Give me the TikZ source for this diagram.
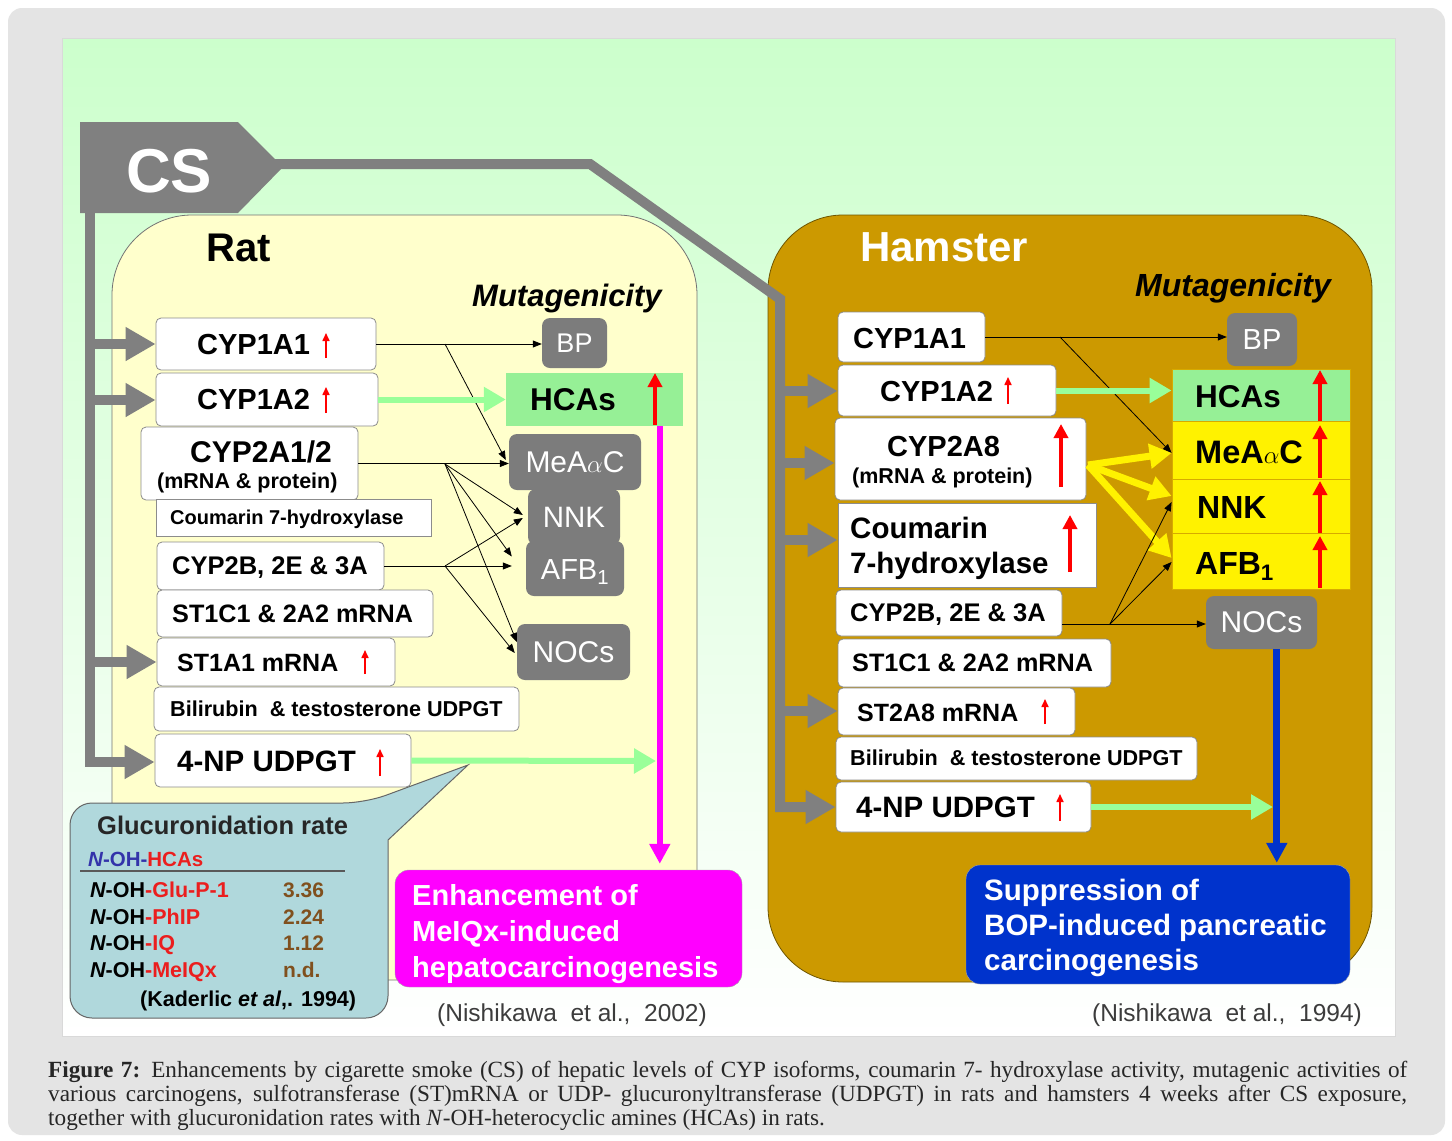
\documentclass[tikz,border=0pt]{standalone}
\usepackage{fontspec}
\setmainfont{Liberation Sans}
\newfontfamily\capfont{Liberation Serif}
\usetikzlibrary{arrows.meta,fit,calc}

\definecolor{framegray}{RGB}{228,228,228}
\definecolor{mint}{RGB}{204,255,204}
\definecolor{csgray}{RGB}{128,128,128}
\definecolor{cellgray}{RGB}{124,124,124}
\definecolor{ratfill}{RGB}{255,255,204}
\definecolor{hamfill}{RGB}{204,153,0}
\definecolor{hamedge}{RGB}{110,85,0}
\definecolor{hcagreen}{RGB}{150,240,150}
\definecolor{arrgreen}{RGB}{153,255,153}
\definecolor{celledge}{RGB}{215,170,0}
\definecolor{mag}{RGB}{255,0,255}
\definecolor{supblue}{RGB}{0,51,204}
\definecolor{callfill}{RGB}{176,216,220}
\definecolor{valbrown}{RGB}{128,80,30}
\definecolor{upred}{RGB}{255,0,0}
\definecolor{namered}{RGB}{235,30,30}
\definecolor{hcablue}{RGB}{51,51,170}
\definecolor{refgray}{RGB}{60,60,60}

\newcommand\fz[1]{\fontsize{#1}{#1}\selectfont}

\begin{document}
\begin{tikzpicture}[x=1pt,y=-1pt,
  wbox/.style={draw=black!45,fill=white,rounded corners=5pt,line width=0.8pt,inner sep=0pt},
  sbox/.style={draw=black!45,fill=white,line width=0.8pt,inner sep=0pt},
  gbox/.style={fill=cellgray,rounded corners=8pt,inner sep=0pt},
  gtext/.style={text=white,inner sep=0pt,anchor=center},
  cell/.style={draw=celledge,line width=0.8pt,inner sep=0pt},
  lab/.style={anchor=base west,inner sep=0pt},
  thinarr/.style={draw=black,line width=0.8pt,-{Triangle[length=9pt,width=7pt]}},
  grayarr/.style={draw=csgray,line width=10pt,-{Triangle[length=30pt,width=32pt]}},
  greenarr/.style={draw=arrgreen,line width=6pt,-{Triangle[length=22pt,width=24pt]}},
  yelarr/.style={draw=yellow,line width=7pt,-{Triangle[length=22pt,width=24pt]}},
  upsm/.style={draw=upred,line width=1.6pt,-{Triangle[length=8pt,width=7pt]}},
  upbig/.style={draw=upred,line width=4pt,-{Triangle[length=14pt,width=14pt]}},
]
\useasboundingbox (0,0) rectangle (1452,1141);

% frame and panel
\fill[white] (0,0) rectangle (1452,1141);
\fill[framegray,rounded corners=14pt] (8,8) rectangle (1445,1135);
\shade[top color=mint,bottom color=white,draw=black!15] (62,38) rectangle (1395,1036);

% species regions
\draw[fill=ratfill,draw=black!55,line width=0.8pt,rounded corners=80pt] (112,215) rectangle (697,980);
\draw[fill=hamfill,draw=hamedge,line width=0.8pt,rounded corners=75pt] (768,215) rectangle (1372,982);

\node[lab,font=\bfseries\fz{40}] (rattitle) at (206,261) {Rat};
\node[lab,font=\bfseries\fz{42},text=white] (hamtitle) at (860,261) {Hamster};
\node[lab,font=\bfseries\itshape\fz{31}] (ratmut) at (472,306) {Mutagenicity};
\node[lab,font=\bfseries\itshape\fz{32}] (hammut) at (1135,296) {Mutagenicity};

% ---------- rat: enzyme boxes ----------
\node[wbox,fit={(156,318)(376,370)}] (r1) {};
\node[lab,font=\bfseries\fz{29}] (r1t) at (197,354) {CYP1A1};
\node[wbox,fit={(156,373)(378,426)}] (r2) {};
\node[lab,font=\bfseries\fz{29}] (r2t) at (197,409) {CYP1A2};
\node[wbox,fit={(141,427)(358,500)}] (r3) {};
\node[lab,font=\bfseries\fz{30}] (r3t) at (190,462) {CYP2A1/2};
\node[lab,font=\bfseries\fz{21.5}] (r3u) at (157,488) {(mRNA \& protein)};
\node[sbox,fit={(156,499)(431,536)}] (r4) {};
\node[lab,font=\bfseries\fz{20}] (r4t) at (170,524) {Coumarin 7-hydroxylase};
\node[wbox,fit={(157,542)(384,590)}] (r5) {};
\node[lab,font=\bfseries\fz{25.5}] (r5t) at (172,574) {CYP2B, 2E \& 3A};
\node[wbox,fit={(157,590)(433,637)}] (r6) {};
\node[lab,font=\bfseries\fz{25.2}] (r6t) at (172,622) {ST1C1 \& 2A2 mRNA};
\node[wbox,fit={(157,638)(395,686)}] (r7) {};
\node[lab,font=\bfseries\fz{25}] (r7t) at (177,671) {ST1A1 mRNA};
\node[wbox,fit={(154,687)(519,731)}] (r8) {};
\node[lab,font=\bfseries\fz{21.6}] (r8t) at (170,716) {Bilirubin\ \ \& testosterone UDPGT};
\node[wbox,fit={(155,734)(411,787)}] (r9) {};
\node[lab,font=\bfseries\fz{29.5}] (r9t) at (177,771) {4-NP UDPGT};

% ---------- rat: mutagens ----------
\node[gbox,fit={(542,318)(607,368)}] (rBP) {};
\node[gtext,font=\fz{27}] (rBPt) at (rBP.center) {BP};
\node[fill=hcagreen,inner sep=0pt,fit={(506,373)(683,426)}] (rHCA) {};
\node[lab,font=\bfseries\fz{31.5}] (rHCAt) at (530,410) {HCAs};
\node[gbox,fit={(509,434)(641,490)}] (rMe) {};
\node[gtext,font=\fz{30}] (rMet) at (rMe.center) {MeA$\alpha$C};
\node[gbox,fit={(528,489)(620,545)}] (rNNK) {};
\node[gtext,font=\fz{29.5}] (rNNKt) at (rNNK.center) {NNK};
\node[gbox,fit={(526,541)(624,596)}] (rAFB) {};
\node[gtext,font=\fz{29},anchor=base] (rAFBt) at ($(rAFB.center)+(0,11)$) {AFB\textsubscript{1}};
\node[gbox,fit={(517,624)(630,680)}] (rNOC) {};
\node[gtext,font=\fz{30}] (rNOCt) at (rNOC.center) {NOCs};

% ---------- hamster: enzyme boxes ----------
\node[wbox,fit={(838,312)(985,362)}] (h1) {};
\node[lab,font=\bfseries\fz{29}] (h1t) at (853,348) {CYP1A1};
\node[wbox,fit={(838,365)(1056,416)}] (h2) {};
\node[lab,font=\bfseries\fz{29}] (h2t) at (880,401) {CYP1A2};
\node[wbox,fit={(835,418)(1086,500)}] (h3) {};
\node[lab,font=\bfseries\fz{29}] (h3t) at (887,456) {CYP2A8};
\node[lab,font=\bfseries\fz{21.5}] (h3u) at (852,483) {(mRNA \& protein)};
\node[sbox,fit={(838,503)(1096,587)}] (h4) {};
\node[lab,font=\bfseries\fz{29.5}] (h4t) at (850,538) {Coumarin};
\node[lab,font=\bfseries\fz{29.5}] (h4u) at (850,573) {7-hydroxylase};
\node[wbox,fit={(836,590)(1062,636)}] (h5) {};
\node[lab,font=\bfseries\fz{25.5}] (h5t) at (850,621) {CYP2B, 2E \& 3A};
\node[wbox,fit={(838,639)(1111,687)}] (h6) {};
\node[lab,font=\bfseries\fz{25.2}] (h6t) at (852,671) {ST1C1 \& 2A2 mRNA};
\node[wbox,fit={(838,688)(1075,735)}] (h7) {};
\node[lab,font=\bfseries\fz{25}] (h7t) at (857,721) {ST2A8 mRNA};
\node[wbox,fit={(836,737)(1197,780)}] (h8) {};
\node[lab,font=\bfseries\fz{21.6}] (h8t) at (850,765) {Bilirubin\ \ \& testosterone UDPGT};
\node[wbox,fit={(836,782)(1091,832)}] (h9) {};
\node[lab,font=\bfseries\fz{29.5}] (h9t) at (856,817) {4-NP UDPGT};

% ---------- hamster: mutagens ----------
\node[gbox,fit={(1227,313)(1297,366)}] (hBP) {};
\node[gtext,font=\fz{29}] (hBPt) at (hBP.center) {BP};
\node[cell,fill=hcagreen,fit={(1172,369)(1350,421)}] (hHCA) {};
\node[lab,font=\bfseries\fz{31.5}] (hHCAt) at (1195,407) {HCAs};
\node[cell,fill=yellow,fit={(1172,421)(1350,479)}] (hMe) {};
\node[lab,font=\bfseries\fz{32.5}] (hMet) at (1195,463) {MeA$\alpha$C};
\node[cell,fill=yellow,fit={(1172,479)(1350,533)}] (hNNK) {};
\node[lab,font=\bfseries\fz{32}] (hNNKt) at (1197,518) {NNK};
\node[cell,fill=yellow,fit={(1172,533)(1350,589)}] (hAFB) {};
\node[lab,font=\bfseries\fz{32}] (hAFBt) at (1195,574) {AFB\textsubscript{1}};
\node[gbox,fit={(1206,596)(1317,649)}] (hNOC) {};
\node[gtext,font=\fz{30}] (hNOCt) at (hNOC.center) {NOCs};

% ---------- outcome boxes ----------
\node[fill=mag,draw=black!35,rounded corners=14pt,inner sep=0pt,fit={(395,870)(742,987)}] (magbox) {};
\node[lab,font=\bfseries\fz{29},text=white] (mt1) at (412,905) {Enhancement of};
\node[lab,font=\bfseries\fz{29},text=white] (mt2) at (412,941) {MeIQx-induced};
\node[lab,font=\bfseries\fz{29},text=white] (mt3) at (412,977) {hepatocarcinogenesis};
\node[fill=supblue,draw=black!35,rounded corners=14pt,inner sep=0pt,fit={(966,865)(1350,984)}] (bluebox) {};
\node[lab,font=\bfseries\fz{29.5},text=white] (bt1) at (984,900) {Suppression of};
\node[lab,font=\bfseries\fz{29.5},text=white] (bt2) at (984,935) {BOP-induced pancreatic};
\node[lab,font=\bfseries\fz{29.5},text=white] (bt3) at (984,970) {carcinogenesis};

\node[lab,font=\fz{24.5},text=refgray] (ref1) at (437,1021) {(Nishikawa\ \ et al.,\ \ 2002)};
\node[lab,font=\fz{24.5},text=refgray] (ref2) at (1092,1021) {(Nishikawa\ \ et al.,\ \ 1994)};

% ---------- CS exposure lines ----------
\draw[grayarr] (270,164) -- (590,164) -- (780,299) -- (780,807) -- (h9.west |- 0,807);
\draw[grayarr] (90,210) -- (90,762) -- (r9.west |- 0,762);
\fill[csgray] (80,122) -- (238,122) -- (283,167) -- (238,213) -- (80,213) -- cycle;
\node[lab,font=\bfseries\fz{62},text=white] (cs) at (126,192) {CS};

\coordinate (rt1) at (90,344);
\coordinate (rt2) at (90,400);
\coordinate (rt7) at (90,662);
\draw[grayarr] (rt1) -- (rt1 -| r1.west);
\draw[grayarr] (rt2) -- (rt2 -| r2.west);
\draw[grayarr] (rt7) -- (rt7 -| r7.west);
\coordinate (ht2) at (780,391);
\coordinate (ht3) at (780,463);
\coordinate (ht4) at (780,540);
\coordinate (ht7) at (780,711);
\draw[grayarr] (ht2) -- (ht2 -| h2.west);
\draw[grayarr] (ht3) -- (ht3 -| h3.west);
\draw[grayarr] (ht4) -- (ht4 -| h4.west);
\draw[grayarr] (ht7) -- (ht7 -| h7.west);

% ---------- rat: metabolic activation ----------
\draw[thinarr] (r1.east) -- (r1.east -| rBP.west);
\coordinate (rb1) at (445,344);
\draw[thinarr] (rb1) -- ($(rMe.west)+(-3,-2)$);
\draw[thinarr] (r3.east) -- (r3.east -| rMe.west);
\coordinate (rb2) at (445,464);
\draw[thinarr] (rb2) -- ($(rNNK.west)+(-5,-2)$);
\draw[thinarr] (rb2) -- ($(rAFB.west)+(-14,-12)$);
\draw[thinarr] (rb2) -- ($(rNOC.west)+(0,-10)$);
\draw[thinarr] (r5.east) -- ($(r5.east -| rAFB.west)+(-14,0)$);
\coordinate (rb3) at (445,566);
\draw[thinarr] (rb3) -- ($(rNNK.west)+(-5,1)$);
\draw[thinarr] (rb3) -- ($(rNOC.west)+(-2,1)$);
\draw[greenarr] (r2.east) -- (rHCA.west);
\coordinate (rgend) at (656,761);
\draw[greenarr] (r9.east) -- (rgend);
\draw[draw=mag,line width=6pt,-{Triangle[length=20pt,width=20pt]}]
  ($(rHCA.south west)+(154,0)$) -- ($(magbox.north west)+(265,-6)$);

% ---------- hamster: metabolic activation ----------
\draw[thinarr] (h1.east) -- (h1.east -| hBP.west);
\coordinate (hb1) at (1060,337);
\draw[thinarr] (hb1) -- ($(hMe.west)+(0,3)$);
\draw[greenarr] (h2.east) -- (h2.east -| hHCA.west);
\coordinate (hy) at (1088,465);
\draw[yelarr] (hy) -- ($(hMe.west)+(0,3)$);
\draw[yelarr] (hy) -- ($(hNNK.west)+(0,-10)$);
\draw[yelarr] (hy) -- ($(hAFB.west)+(0,-3)$);
\coordinate (h5o) at ($(h5.east)+(0,11)$);
\draw[thinarr] (h5o) -- (h5o -| hNOC.west);
\coordinate (hb2) at (1110,624);
\draw[thinarr] (hb2) -- ($(hNNK.west)+(0,-4)$);
\draw[thinarr] (hb2) -- ($(hAFB.west)+(0,1)$);
\coordinate (hgend) at (1273,807);
\draw[greenarr] (h9.east |- 0,807) -- (hgend);
\draw[draw=supblue,line width=7pt,-{Triangle[length=20pt,width=20pt]}]
  ($(hNOC.south west)+(71,0)$) -- ($(bluebox.north west)+(311,-2)$);

% ---------- increase marks ----------
\draw[upsm] (326,358) -- (326,333);
\draw[upsm] (326,413) -- (326,387);
\draw[upsm] (365,674) -- (365,650);
\draw[upsm] (380,776) -- (380,749);
\draw[upbig] (655,425) -- (655,373);
\draw[upsm] (1008,404) -- (1008,377);
\draw[upsm] (1045,724) -- (1045,699);
\draw[upsm] (1060,821) -- (1060,794);
\draw[upbig] (1061,487) -- (1061,424);
\draw[upbig] (1070,572) -- (1070,515);
\draw[upbig] (1320,421) -- (1320,370);
\draw[upbig] (1320,478) -- (1320,425);
\draw[upbig] (1320,533) -- (1320,481);
\draw[upbig] (1320,588) -- (1320,536);

% ---------- glucuronidation call-out ----------
\draw[draw=black!60,fill=callfill,line width=1pt,rounded corners=22pt]
  (70,900) -- (70,803) -- (365,803) [sharp corners] -- (468,765) -- (388,840)
  [rounded corners=22pt] -- (388,1018) -- (70,1018) -- cycle;
\node[lab,font=\bfseries\fz{25.5},text=black!85] (gtitle) at (97,834) {Glucuronidation rate};
\node[lab,font=\bfseries\fz{20.5}] (ghead) at (88,866)
  {\textcolor{hcablue}{\itshape N}\textcolor{hcablue}{-OH-}\textcolor{namered}{HCAs}};
\draw[draw=black!65,line width=1.5pt] (80,871) -- (345,871);
\node[lab,font=\bfseries\fz{21.5}] (g1) at (90,897) {{\itshape N}-OH\textcolor{namered}{-Glu-P-1}};
\node[lab,font=\bfseries\fz{21}, text=valbrown] (v1) at (283,897) {3.36};
\node[lab,font=\bfseries\fz{21.5}] (g2) at (90,924) {{\itshape N}-OH\textcolor{namered}{-PhIP}};
\node[lab,font=\bfseries\fz{21},text=valbrown] (v2) at (283,924) {2.24};
\node[lab,font=\bfseries\fz{21.5}] (g3) at (90,950) {{\itshape N}-OH\textcolor{namered}{-IQ}};
\node[lab,font=\bfseries\fz{21},text=valbrown] (v3) at (283,950) {1.12};
\node[lab,font=\bfseries\fz{21.5}] (g4) at (90,977) {{\itshape N}-OH\textcolor{namered}{-MeIQx}};
\node[lab,font=\bfseries\fz{21},text=valbrown] (v4) at (283,977) {n.d.};
\node[lab,font=\bfseries\fz{21.5}] (gref) at (140,1006) {(Kaderlic {\itshape et al},. 1994)};

% ---------- caption ----------
\node[anchor=north west,inner sep=0pt,text width=1359pt,align=justify,
      font=\capfont\fontsize{23.2}{24}\selectfont,text=black!85] (cap) at (48,1061)
  {\textbf{Figure 7:} Enhancements by cigarette smoke (CS) of hepatic levels of CYP isoforms,
   coumarin 7- hydroxylase activity, mutagenic activities of\linebreak various carcinogens,
   sulfotransferase (ST)mRNA or UDP- glucuronyltransferase (UDPGT) in rats and hamsters
   4 weeks after CS exposure,\linebreak together with glucuronidation rates with
   \textit{N}-OH-heterocyclic amines (HCAs) in rats.};
\end{tikzpicture}
\end{document}
